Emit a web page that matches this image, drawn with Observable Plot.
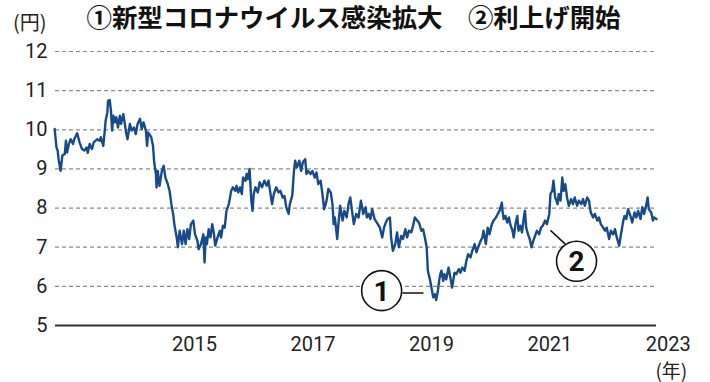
<!DOCTYPE html>
<html>
<head>
<meta charset="utf-8">
<script src="https://cdn.jsdelivr.net/npm/d3@7"></script>
<script src="https://cdn.jsdelivr.net/npm/@observablehq/plot@0.6"></script>
<style>
  html, body { margin: 0; padding: 0; background: #fff; }
  svg { display: block; }
</style>
</head>
<body>
<div id="chart"></div>
<script>
// Time in decimal years, value in yen
const years = [
2012.64,2012.67,2012.69,2012.71,2012.74,2012.77,2012.81,2012.83,2012.85,2012.88,
2012.91,2012.95,2012.97,2013.02,2013.06,2013.10,2013.14,2013.18,2013.20,2013.23,
2013.27,2013.30,2013.36,2013.40,2013.42,2013.46,2013.48,2013.50,2013.53,2013.54,
2013.57,2013.59,2013.61,2013.63,2013.66,2013.68,2013.71,2013.74,2013.76,2013.80,
2013.82,2013.85,2013.87,2013.91,2013.94,2013.98,2014.01,2014.04,2014.08,2014.11,
2014.14,2014.18,2014.20,2014.22,2014.27,2014.30,2014.32,2014.35,2014.36,2014.38,
2014.41,2014.45,2014.48,2014.51,2014.55,2014.58,2014.61,2014.64,2014.66,2014.70,
2014.72,2014.75,2014.79,2014.82,2014.85,2014.88,2014.91,2014.94,2014.98,2015.01,
2015.05,2015.07,2015.11,2015.15,2015.17,
2015.19,2015.21,2015.24,2015.27,2015.30,2015.33,2015.35,2015.39,2015.43,2015.45,
2015.48,2015.51,2015.54,2015.58,2015.62,2015.65,2015.69,2015.71,2015.74,2015.77,
2015.80,2015.82,2015.86,2015.88,2015.90,2015.93,2015.96,2015.98,2016.00,2016.03,
2016.07,2016.10,2016.14,2016.18,2016.22,2016.25,2016.28,2016.31,2016.34,2016.38,
2016.42,2016.45,2016.49,2016.52,2016.55,2016.59,2016.61,2016.65,2016.68,2016.70,
2016.73,2016.77,2016.80,2016.83,2016.87,2016.89,2016.92,2016.96,2016.99,2017.03,
2017.06,2017.09,2017.13,2017.16,2017.19,2017.23,2017.26,2017.30,2017.33,2017.35,
2017.37,2017.41,2017.43,2017.46,2017.50,2017.53,2017.57,2017.60,2017.63,
2017.66,2017.69,2017.73,2017.77,2017.81,2017.85,2017.89,2017.91,2017.94,2017.97,
2018.00,2018.04,2018.08,2018.13,2018.17,2018.20,2018.23,2018.26,2018.30,2018.32,
2018.35,2018.39,2018.42,2018.45,2018.49,2018.52,2018.56,2018.59,2018.62,2018.66,
2018.69,2018.72,2018.76,2018.79,2018.83,2018.86,2018.89,2018.92,2018.94,2018.96,
2018.98,2019.01,2019.03,2019.06,2019.08,2019.11,2019.13,2019.15,2019.17,2019.20,
2019.22,2019.25,2019.29,2019.32,2019.35,2019.39,2019.42,2019.46,2019.49,2019.52,
2019.56,2019.59,2019.62,2019.66,2019.69,2019.73,2019.76,2019.79,2019.83,2019.86,
2019.88,2019.92,2019.95,2019.98,2020.02,2020.05,2020.09,2020.12,2020.15,2020.19,
2020.20,2020.22,2020.25,2020.28,2020.31,2020.33,2020.37,2020.39,2020.42,2020.45,
2020.47,2020.50,2020.53,2020.56,2020.58,2020.60,2020.63,2020.66,2020.69,2020.72,
2020.75,2020.78,2020.82,2020.85,2020.88,2020.92,2020.95,2020.99,2021.01,2021.04,
2021.06,2021.09,2021.11,2021.13,2021.15,2021.18,2021.21,2021.23,2021.26,2021.29,
2021.32,2021.36,2021.39,2021.42,2021.46,2021.49,2021.53,2021.56,2021.59,2021.63,
2021.66,2021.69,2021.73,2021.76,2021.80,2021.83,2021.86,2021.90,2021.93,2021.96,
2022.00,2022.03,2022.07,2022.10,2022.13,2022.17,2022.20,2022.24,2022.26,2022.29,
2022.32,2022.36,2022.39,2022.43,2022.46,2022.49,2022.53,2022.56,2022.59,2022.63,
2022.65,2022.67,2022.71,2022.74,2022.76,2022.80
];
const values = [
10.02,9.55,9.47,9.21,8.95,9.34,9.38,9.72,9.42,9.64,
9.76,9.64,9.76,9.91,9.68,9.51,9.47,9.55,9.41,9.64,
9.51,9.68,9.76,9.72,9.81,9.59,9.89,10.23,10.45,10.74,
10.76,10.49,9.98,10.36,10.19,10.32,10.06,10.36,10.15,10.40,
10.19,9.89,9.76,10.15,9.98,10.06,9.89,10.15,10.28,10.02,
10.19,9.98,9.59,9.93,9.81,9.59,9.17,8.87,8.53,8.95,
8.57,8.95,9.08,8.78,8.61,8.44,8.10,7.85,7.59,7.25,
7.00,7.42,7.08,7.42,7.08,7.46,7.21,7.59,7.68,7.33,
7.16,6.95,7.08,7.33,6.61,
7.25,7.08,7.46,7.25,7.59,7.33,7.04,7.25,7.42,7.25,
7.55,7.50,7.93,8.10,8.44,8.53,8.44,8.57,8.40,8.53,
8.36,8.78,8.70,8.87,8.74,9.00,8.19,7.93,8.36,8.53,
8.40,8.66,8.53,8.70,8.57,8.70,8.40,8.10,8.36,8.53,
8.40,8.44,8.27,8.31,8.02,7.85,8.10,8.31,8.95,9.21,
9.04,9.21,8.95,9.17,9.25,8.87,8.95,8.87,8.95,8.78,
8.91,8.61,8.70,8.36,7.97,8.19,8.49,8.40,8.10,7.59,
7.76,7.21,7.59,8.06,7.68,7.93,7.76,8.10,8.27,
7.93,7.59,7.85,7.76,8.19,7.85,8.02,7.76,7.85,7.72,
7.97,7.72,7.63,7.50,7.25,7.50,7.63,7.72,7.76,7.25,
6.91,7.08,7.38,7.00,7.29,7.21,7.46,7.25,7.42,7.38,
7.55,7.76,7.68,7.63,7.42,7.46,7.25,7.00,6.40,6.27,
6.14,5.89,5.72,5.80,5.65,5.89,6.14,6.31,6.40,6.14,
6.31,6.18,6.48,6.23,5.97,6.35,6.31,6.44,6.35,6.48,
6.40,6.65,6.82,6.74,6.91,7.08,6.87,7.00,7.16,7.25,
7.42,7.08,7.50,7.33,7.59,7.68,7.76,7.85,7.93,8.14,
7.93,7.72,7.80,7.63,7.76,7.59,7.42,7.25,7.59,7.80,
7.42,7.55,7.38,7.76,7.93,7.50,7.33,7.21,7.00,7.16,
7.29,7.42,7.33,7.50,7.55,7.68,7.59,7.85,8.36,8.44,
8.70,8.27,8.19,8.10,8.36,8.19,8.78,8.44,8.61,8.27,
8.06,8.23,8.10,8.27,8.06,8.19,8.10,8.23,8.06,8.27,
8.19,7.89,7.76,7.85,7.68,7.76,7.59,7.50,7.42,7.50,
7.21,7.42,7.33,7.46,7.25,7.04,7.33,7.68,7.80,7.72,
7.97,7.80,7.63,7.89,7.76,7.93,7.72,8.02,7.85,8.10,
8.27,7.97,7.89,7.68,7.76,7.72
];
const yTicks = [5, 6, 7, 8, 9, 10, 11, 12];
const xTicks = [2015, 2017, 2019, 2021, 2023];
const titleText = "①新型コロナウイルス感染拡大　②利上げ開始";
const yUnit = "(円)";
const xUnit = "(年)";
// annotation markers (in data units)
const markerLabels = ["1", "2"];
const markerX = [2018.16, 2021.45];
const markerY = [5.89, 6.64];
const leaderX1 = [2018.51, 2021.26];
const leaderY1 = [5.83, 7.08];
const leaderX2 = [2018.865, 2021.01];
const leaderY2 = [5.83, 7.43];

const data = years.map((t, i) => ({t, v: values[i]}));
const markers = markerLabels.map((label, i) => ({label, x: markerX[i], y: markerY[i]}));
const leaders = leaderX1.map((x1, i) => ({x1, y1: leaderY1[i], x2: leaderX2[i], y2: leaderY2[i]}));

const font = "Roboto, 'Noto Sans CJK JP', sans-serif";
const jp = "'Noto Sans CJK JP', sans-serif";

const chart = Plot.plot({
  width: 710,
  height: 382,
  marginLeft: 55,
  marginRight: 54,
  marginTop: 51,
  marginBottom: 57,
  style: {fontFamily: font, color: "#222", background: "#fff", overflow: "visible"},
  x: {type: "linear", domain: [2012.654, 2022.80], axis: null},
  y: {domain: [5, 12], axis: null},
  marks: [
    Plot.ruleY(yTicks.filter(d => d > 5), {stroke: "#8a8a8a", strokeWidth: 1.2, strokeDasharray: "4,3"}),
    Plot.axisY(yTicks, {tickSize: 0, tickPadding: 8, fontSize: 20, fill: "#222"}),
    Plot.text(xTicks, {x: d => d, frameAnchor: "bottom", lineAnchor: "middle", dy: 19, text: d => String(d), fontSize: 20, fill: "#222"}),
    Plot.text([xUnit], {x: xTicks[xTicks.length - 1], frameAnchor: "bottom", lineAnchor: "middle", dy: 46, dx: 3, text: d => d, fontSize: 19, fill: "#222", fontFamily: jp}),
    Plot.text([yUnit], {frameAnchor: "top-left", lineAnchor: "middle", dx: -42.5, dy: -28, text: d => d, textAnchor: "start", fontSize: 20, fill: "#222", fontFamily: jp}),
    Plot.text([titleText], {frameAnchor: "top-left", lineAnchor: "middle", dx: 31, dy: -33, text: d => d, textAnchor: "start", fontSize: 25, fontWeight: "bold", fill: "#111", fontFamily: jp, className: "title-text"}),
    Plot.ruleY([5], {stroke: "#333", strokeWidth: 2.2}),
    Plot.link(leaders, {x1: "x1", y1: "y1", x2: "x2", y2: "y2", stroke: "#111", strokeWidth: 1.5}),
    Plot.dot(markers, {x: "x", y: "y", r: 20, fill: "#fff", stroke: "#111", strokeWidth: 1.6}),
    Plot.text(markers, {x: "x", y: "y", text: "label", fontSize: 28, fontWeight: "bold", fill: "#111", dy: 1}),
    Plot.line(data, {x: "t", y: "v", stroke: "#174a8b", strokeWidth: 2.4, strokeLinejoin: "round"})
  ]
});
// condense the title to the reference's width
d3.select(chart).selectAll(".title-text text")
  .attr("textLength", 534)
  .attr("lengthAdjust", "spacingAndGlyphs");
document.getElementById("chart").appendChild(chart);
</script>
</body>
</html>
